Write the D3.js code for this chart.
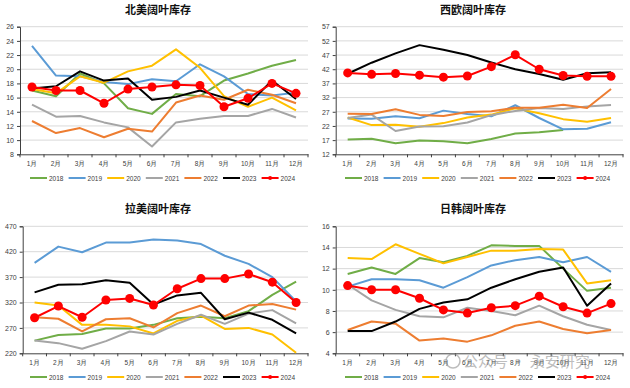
<!DOCTYPE html>
<html><head><meta charset="utf-8">
<script src="https://cdn.jsdelivr.net/npm/d3@7"></script>
<style>
html,body{margin:0;padding:0;background:#fff;}
svg{display:block;font-family:"Noto Sans CJK SC","Noto Sans",sans-serif;}
</style></head>
<body><svg id="c" width="630" height="388"></svg>
<script>
const months = ["1月","2月","3月","4月","5月","6月","7月","8月","9月","10月","11月","12月"];
const years = ["2018","2019","2020","2021","2022","2023","2024"];
const colors = ["#70ad47","#5b9bd5","#ffc000","#a5a5a5","#ed7d31","#000000","#ff0000"];

const titles = ["北美阔叶库存","西欧阔叶库存","拉美阔叶库存","日韩阔叶库存"];
const yTicksNA = [8,10,12,14,16,18,20,22,24,26];
const yTicksWE = [12,17,22,27,32,37,42,47,52,57];
const yTicksLA = [220,270,320,370,420,470];
const yTicksJK = [4,6,8,10,12,14,16];

// 北美
const na2018 = [17.0,16.2,19.4,18.0,14.5,13.7,16.5,16.2,18.4,19.4,20.5,21.3];
const na2019 = [23.3,19.1,19.0,18.2,17.9,18.6,18.3,20.7,19.0,16.5,16.3,16.7];
const na2020 = [17.2,16.6,19.0,18.1,19.7,20.5,22.8,20.2,16.2,14.7,16.0,14.2];
const na2021 = [15.0,13.3,13.4,12.5,11.8,9.1,12.5,13.0,13.4,13.4,14.4,13.2];
const na2022 = [12.7,11.0,11.7,10.4,11.6,11.2,15.3,16.3,15.7,17.1,16.4,15.2];
const na2023 = [17.3,17.6,19.7,18.4,18.7,15.7,16.1,17.0,16.0,15.0,18.4,15.8];
const na2024 = [17.5,17.0,17.0,15.2,17.2,17.5,17.8,17.7,14.7,15.9,18.0,16.6];
// 西欧
const we2018 = [17.2,17.5,15.9,16.9,16.6,15.9,17.4,19.3,19.8,20.6,null,null];
const we2019 = [24.6,24.5,25.4,24.7,27.4,26.2,25.4,29.3,24.8,20.8,21.0,23.3];
const we2020 = [25.0,22.3,22.4,21.7,23.0,25.0,26.0,28.2,26.5,24.4,23.5,24.8];
const we2021 = [24.8,26.0,20.2,21.8,21.9,23.2,25.8,27.3,28.3,28.0,28.9,29.4];
const we2022 = [26.3,26.2,27.9,25.9,25.5,26.9,27.2,28.4,28.4,29.5,28.3,35.0];
const we2023 = [40.4,44.3,47.6,50.5,48.9,47.0,44.4,42.0,40.3,38.3,40.6,40.9];
const we2024 = [40.7,40.2,40.5,39.9,39.2,39.6,42.9,47.1,42.0,39.8,39.5,39.5];
// 拉美
const la2018 = [245,256,258,269,269,276,289,292,289,303,335,361];
const la2019 = [398,430,419,438,438,444,442,435,412,396,370,322];
const la2020 = [320,314,276,276,273,259,284,294,268,270,257,221];
const la2021 = [245,240,229,244,263,257,278,296,278,298,305,279];
const la2022 = [291,288,263,287,289,271,299,314,293,314,317,306];
const la2023 = [340,355,356,364,359,316,334,339,287,300,286,259];
const la2024 = [290,313,291,325,328,315,347,367,367,376,360,320];
// 日韩
const jk2018 = [11.5,12.1,11.5,13.0,12.6,13.2,14.2,14.15,14.15,12.0,9.9,10.2];
const jk2019 = [10.3,11.0,11.0,10.9,10.2,11.2,12.3,12.8,13.1,12.6,13.1,11.7];
const jk2020 = [13.0,12.9,14.3,13.4,12.5,13.1,13.7,13.7,13.85,13.8,10.6,10.9];
const jk2021 = [10.5,9.0,8.1,7.5,7.4,8.3,8.0,7.6,8.5,7.5,6.7,6.2];
const jk2022 = [6.2,7.0,6.8,5.2,5.4,5.1,5.7,6.6,7.0,6.3,5.9,6.2];
const jk2023 = [6.1,6.1,7.0,8.2,8.8,9.1,10.2,11.0,11.7,12.1,8.5,10.6];
const jk2024 = [10.4,10.0,10.0,9.2,8.1,7.8,8.3,8.5,9.4,8.4,7.8,8.7];

const panels = [
  {ox:0, oy:0, title:titles[0], ticks:yTicksNA, series:[na2018,na2019,na2020,na2021,na2022,na2023,na2024],
   left:20, right:308, top:26.7, bottom:154.3, titleY:14, xlabY:166, legY:178},
  {ox:315, oy:0, title:titles[1], ticks:yTicksWE, series:[we2018,we2019,we2020,we2021,we2022,we2023,we2024],
   left:20.7, right:308, top:26.7, bottom:154.3, titleY:14, xlabY:166, legY:178},
  {ox:0, oy:194, title:titles[2], ticks:yTicksLA, series:[la2018,la2019,la2020,la2021,la2022,la2023,la2024],
   left:22.7, right:308, top:32.3, bottom:159.3, titleY:19, xlabY:171, legY:183},
  {ox:315, oy:194, title:titles[3], ticks:yTicksJK, series:[jk2018,jk2019,jk2020,jk2021,jk2022,jk2023,jk2024],
   left:20.7, right:308, top:32.3, bottom:159.3, titleY:19, xlabY:171, legY:183}
];

const svg = d3.select("#c");

panels.forEach(p => {
  const g = svg.append("g").attr("transform", `translate(${p.ox},${p.oy})`);
  const x = d3.scaleBand().domain(months).range([p.left, p.right]);
  const y = d3.scaleLinear().domain([p.ticks[0], p.ticks[p.ticks.length-1]]).range([p.bottom, p.top]);

  g.append("text").attr("x", 158).attr("y", p.titleY).attr("text-anchor","middle")
    .attr("font-size", 11).attr("font-weight","bold").attr("fill","#111").text(p.title);

  // gridlines
  g.append("g").selectAll("line").data(p.ticks.slice(1)).join("line")
    .attr("x1", p.left).attr("x2", p.right)
    .attr("y1", d => y(d)).attr("y2", d => y(d))
    .attr("stroke","#d9d9d9").attr("stroke-width",1);

  // y axis
  const ya = g.append("g").attr("transform", `translate(${p.left},0)`)
    .call(d3.axisLeft(y).tickValues(p.ticks).tickSize(3).tickPadding(3));
  ya.select(".domain").attr("stroke","#404040");
  ya.selectAll(".tick line").attr("stroke","#404040");
  ya.selectAll("text").attr("font-size",7).attr("fill","#404040")
    .attr("font-family","Liberation Sans, Arial, sans-serif");

  // x axis
  const xa = g.append("g").attr("transform", `translate(0,${p.bottom})`)
    .call(d3.axisBottom(x).tickSize(0).tickPadding(7).tickSizeOuter(0));
  xa.select(".domain").attr("stroke","#404040");
  xa.selectAll("text").attr("font-size",6.5).attr("fill","#404040");
  // boundary ticks
  const bounds = months.map(m => x(m)).concat([p.right]);
  g.append("g").selectAll("line").data(bounds).join("line")
    .attr("x1", d=>d).attr("x2", d=>d).attr("y1", p.bottom).attr("y2", p.bottom+3)
    .attr("stroke","#404040");

  const line = d3.line()
    .defined(d => d != null)
    .x((d,i) => x(months[i]) + x.bandwidth()/2)
    .y(d => y(d));

  p.series.forEach((s, k) => {
    g.append("path").datum(s).attr("d", line)
      .attr("fill","none").attr("stroke", colors[k]).attr("stroke-width", 2)
      .attr("stroke-linejoin","round");
  });
  const red = p.series[6];
  g.append("g").selectAll("circle").data(red).join("circle")
    .attr("cx", (d,i) => x(months[i]) + x.bandwidth()/2)
    .attr("cy", d => y(d)).attr("r", 4.5).attr("fill", colors[6]);

  // legend
  const lg = g.append("g").attr("transform", `translate(0,${p.legY})`);
  years.forEach((yr, k) => {
    const lx = 30 + k*38.6;
    lg.append("line").attr("x1", lx).attr("x2", lx+17).attr("y1",0).attr("y2",0)
      .attr("stroke", colors[k]).attr("stroke-width", 2);
    if (k === 6) lg.append("circle").attr("cx", lx+8.5).attr("cy",0).attr("r",2).attr("fill",colors[k]);
    lg.append("text").attr("x", lx+19).attr("y", 2.5).attr("font-size",6.5).attr("fill","#404040")
      .attr("font-family","Liberation Sans, Arial, sans-serif").text(yr);
  });
});

// watermark
const wm = svg.append("g").attr("opacity",0.55);
wm.append("circle").attr("cx",453).attr("cy",361).attr("r",7).attr("fill","none").attr("stroke","#888").attr("stroke-width",1.5);
wm.append("text").attr("x",463).attr("y",367).attr("font-size",15).attr("fill","#888").text("公众号 · 永安研究");
</script></body></html>
